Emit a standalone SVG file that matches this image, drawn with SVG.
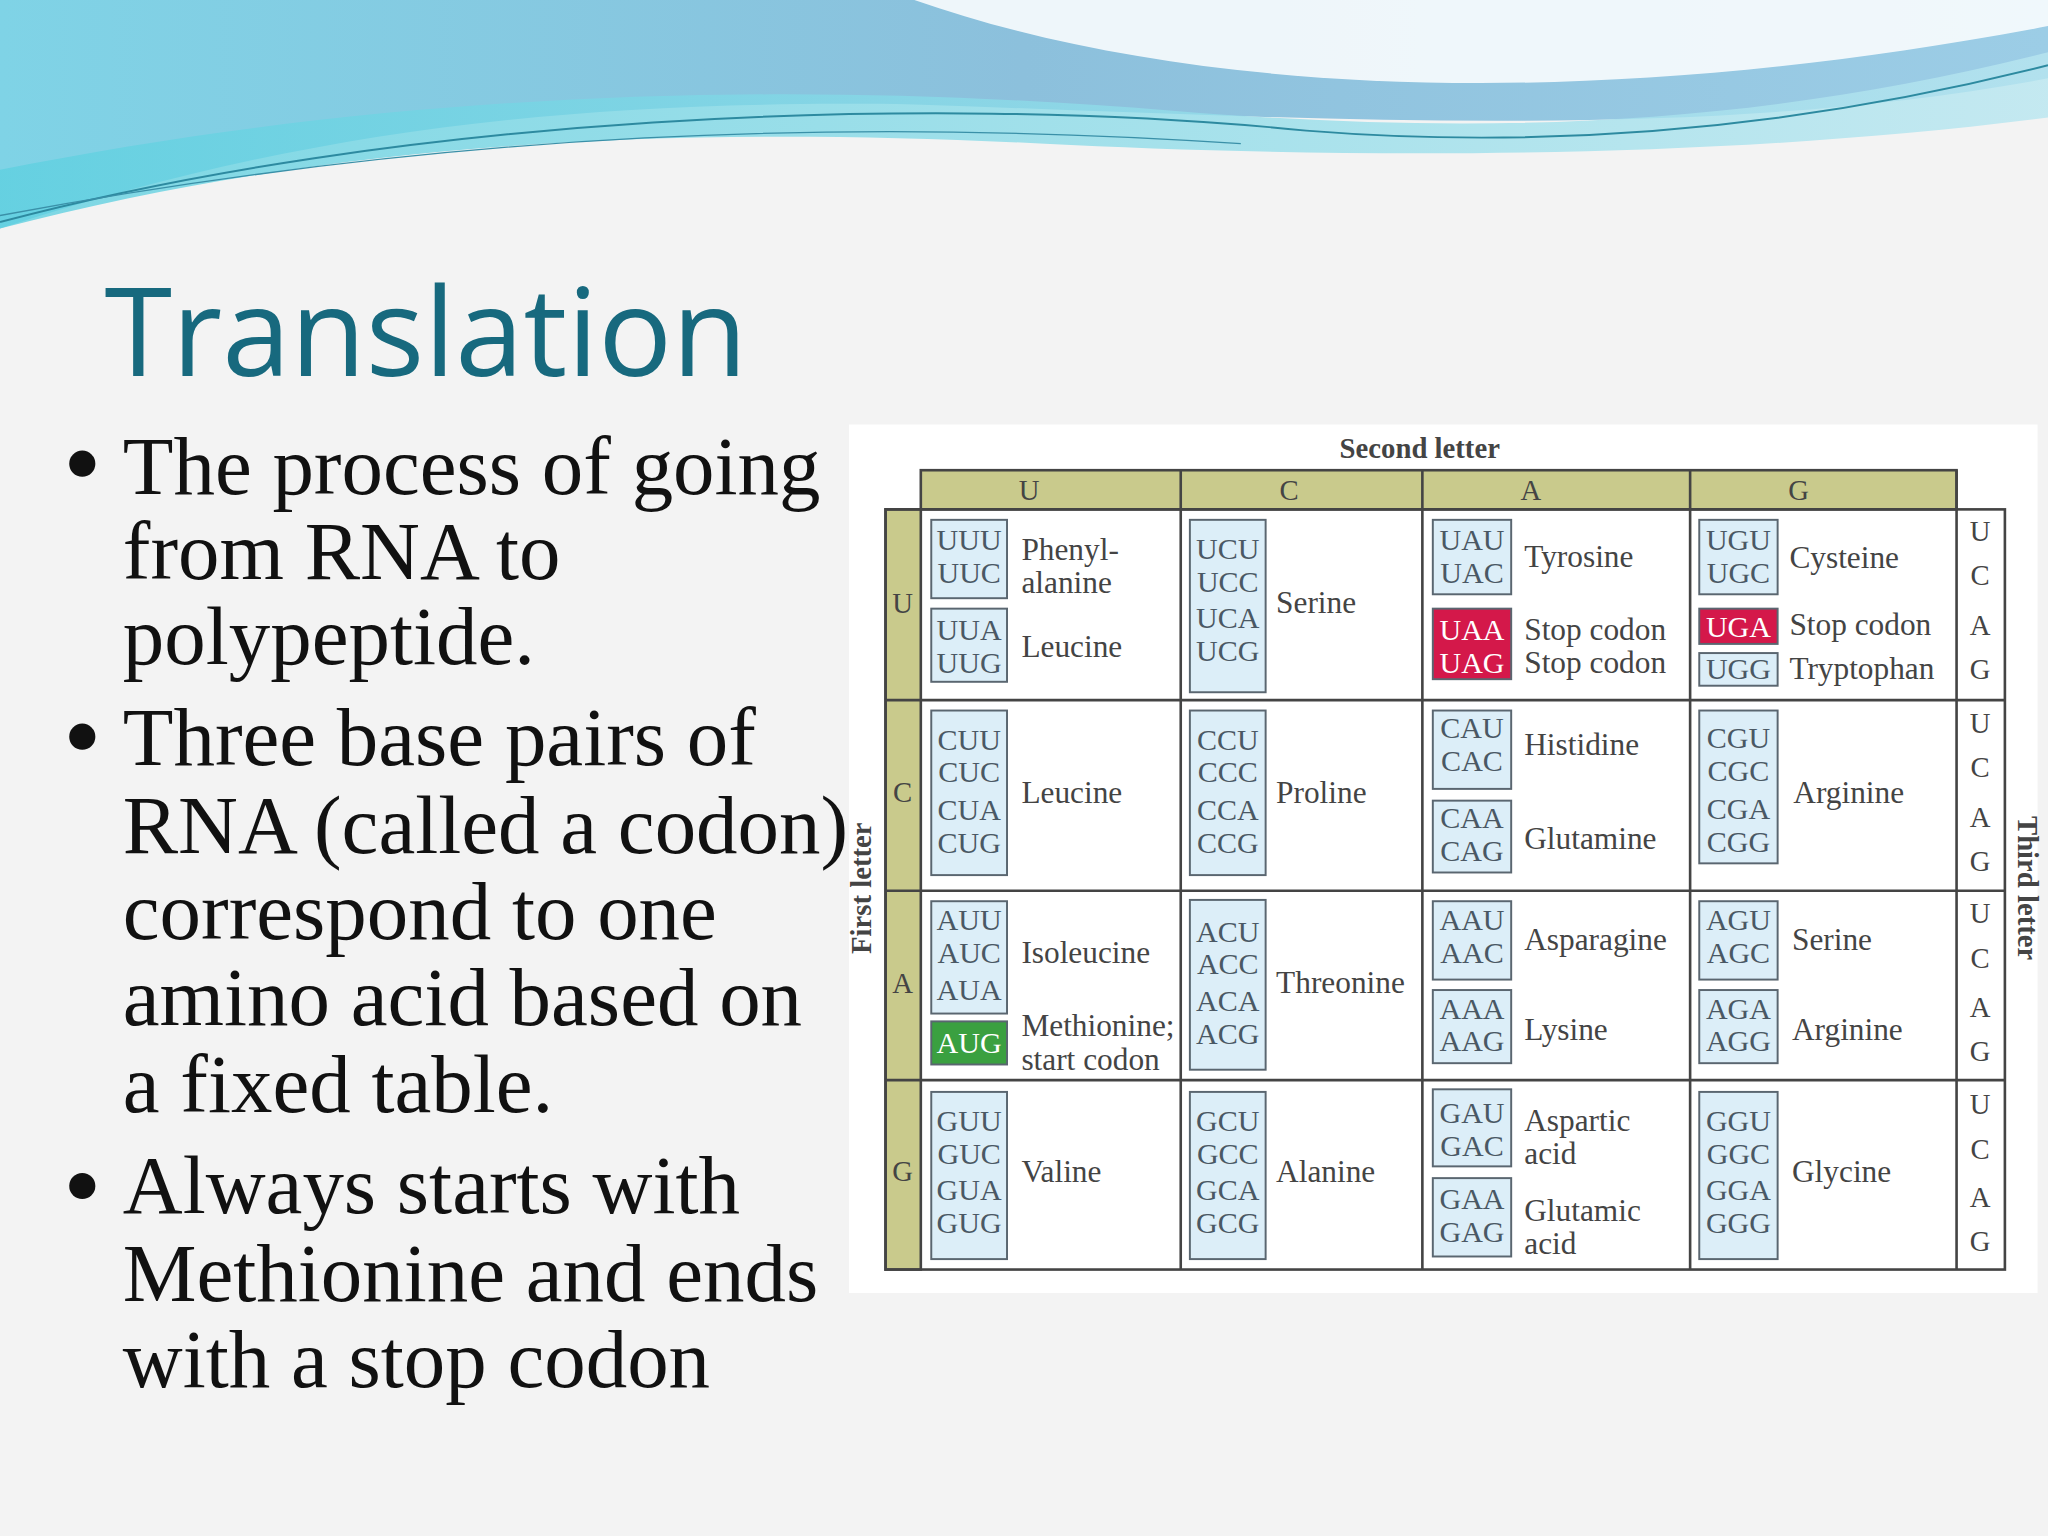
<svg xmlns="http://www.w3.org/2000/svg" width="2048" height="1536" viewBox="0 0 2048 1536">
<defs>
<linearGradient id="sky" x1="0" y1="0" x2="1" y2="0">
<stop offset="0" stop-color="#7fd3e6"/><stop offset="0.5" stop-color="#8cc0dc"/><stop offset="1" stop-color="#9ccde6"/>
</linearGradient>
<linearGradient id="sky2" x1="0" y1="0" x2="1" y2="0">
<stop offset="0" stop-color="#5fd0e0"/><stop offset="1" stop-color="#b8e6f0"/>
</linearGradient>
<style>
.cb{fill:#dceef8;stroke:#5a6670;stroke-width:1.5}
.ct{font-family:"Liberation Serif",serif;font-size:23px;fill:#4a5864;text-anchor:middle}
.lb{font-family:"Liberation Serif",serif;font-size:24px;fill:#444}
.hd{font-family:"Liberation Serif",serif;font-size:22px;fill:#444;text-anchor:middle}
.bl{font-family:"Liberation Serif",serif;font-size:63.5px;fill:#111}
.gl{stroke:#444;stroke-width:2;fill:none}
.yl{fill:#c9ca8c;stroke:#444;stroke-width:2}
</style>
</defs>
<rect width="2048" height="1536" fill="#f3f3f3"/>
<g transform="scale(1.30612)">
<path d="M0,0 H1568 V60 C1300,110 1000,90 700,80 C400,75 200,110 0,175 Z" fill="url(#sky)"/>
<path d="M0,130 C300,70 600,60 900,85 C1150,105 1350,95 1568,40 V90 C1300,125 1000,120 800,110 C500,95 250,110 0,175 Z" fill="url(#sky2)" opacity="0.8"/>
<path d="M700,0 C900,70 1200,90 1568,20 V0 Z" fill="#ffffff" opacity="0.85"/>
<path d="M0,170 C300,90 700,70 1000,100 C1250,120 1450,80 1568,50" stroke="#2d8aa0" stroke-width="1.5" fill="none"/>
<path d="M0,165 C350,100 650,90 950,110" stroke="#3a90a8" stroke-width="1" fill="none"/>

<text x="80" y="288" font-family="'Open Sans',sans-serif" font-size="94" fill="#17697e">Translation</text>

<g class="bl">
<circle cx="63" cy="355" r="10" fill="#111"/>
<text x="94" y="378">The process of going</text>
<text x="94" y="443">from RNA to</text>
<text x="94" y="508">polypeptide.</text>
<circle cx="63" cy="564" r="10" fill="#111"/>
<text x="94" y="586">Three base pairs of</text>
<text x="94" y="653">RNA (called a codon)</text>
<text x="94" y="719">correspond to one</text>
<text x="94" y="785">amino acid based on</text>
<text x="94" y="851">a fixed table.</text>
<circle cx="63" cy="908" r="10" fill="#111"/>
<text x="94" y="929">Always starts with</text>
<text x="94" y="996">Methionine and ends</text>
<text x="94" y="1062">with a stop codon</text>
</g>

<g id="table">
<rect x="650" y="325" width="910" height="665" fill="#ffffff"/>
<rect x="705" y="360" width="793" height="30" class="yl"/>
<rect x="678" y="390" width="27" height="582" class="yl"/>
<rect x="678" y="390" width="857" height="582" class="gl"/>
<g class="gl">
<line x1="904" y1="360" x2="904" y2="972"/><line x1="1089" y1="360" x2="1089" y2="972"/><line x1="1294" y1="360" x2="1294" y2="972"/><line x1="1498" y1="360" x2="1498" y2="972"/>
<line x1="678" y1="536" x2="1535" y2="536"/><line x1="678" y1="682" x2="1535" y2="682"/><line x1="678" y1="827" x2="1535" y2="827"/>
</g>
<text x="1087" y="351" class="hd" font-weight="bold" font-size="21">Second letter</text>
<text class="hd" y="383"><tspan x="788">U</tspan><tspan x="987">C</tspan><tspan x="1172">A</tspan><tspan x="1377">G</tspan></text>
<g class="hd"><text x="691" y="469">U</text><text x="691" y="614">C</text><text x="691" y="760">A</text><text x="691" y="904">G</text></g>
<g class="hd">
<text x="1516" y="414">U</text><text x="1516" y="448">C</text><text x="1516" y="486">A</text><text x="1516" y="520">G</text>
<text x="1516" y="561">U</text><text x="1516" y="595">C</text><text x="1516" y="633">A</text><text x="1516" y="667">G</text>
<text x="1516" y="707">U</text><text x="1516" y="741">C</text><text x="1516" y="779">A</text><text x="1516" y="812">G</text>
<text x="1516" y="853">U</text><text x="1516" y="887">C</text><text x="1516" y="924">A</text><text x="1516" y="958">G</text>
</g>
<text transform="translate(667,680) rotate(-90)" class="hd" font-weight="bold" font-size="21">First letter</text>
<text transform="translate(1545,680) rotate(90)" class="hd" font-weight="bold" font-size="21">Third letter</text>

<rect class="cb" x="713" y="398" width="58" height="60"/><text class="ct" x="742" y="421">UUU</text><text class="ct" x="742" y="446">UUC</text>
<rect class="cb" x="713" y="466" width="58" height="56"/><text class="ct" x="742" y="490">UUA</text><text class="ct" x="742" y="515">UUG</text>
<text class="lb" x="782" y="429">Phenyl-</text><text class="lb" x="782" y="454">alanine</text><text class="lb" x="782" y="503">Leucine</text>
<rect class="cb" x="911" y="398" width="58" height="132"/><text class="ct" x="940" y="428">UCU</text><text class="ct" x="940" y="453">UCC</text><text class="ct" x="940" y="481">UCA</text><text class="ct" x="940" y="506">UCG</text>
<text class="lb" x="977" y="469">Serine</text>
<rect class="cb" x="1097" y="398" width="60" height="57"/><text class="ct" x="1127" y="421">UAU</text><text class="ct" x="1127" y="446">UAC</text>
<rect x="1097" y="466" width="60" height="54" fill="#d4184a" stroke="#5a6670" stroke-width="1.5"/><text class="ct" x="1127" y="490" style="fill:#fff">UAA</text><text class="ct" x="1127" y="515" style="fill:#fff">UAG</text>
<text class="lb" x="1167" y="434">Tyrosine</text><text class="lb" x="1167" y="490">Stop codon</text><text class="lb" x="1167" y="515">Stop codon</text>
<rect class="cb" x="1301" y="398" width="60" height="57"/><text class="ct" x="1331" y="421">UGU</text><text class="ct" x="1331" y="446">UGC</text>
<rect x="1301" y="466" width="60" height="27" fill="#d4184a" stroke="#5a6670" stroke-width="1.5"/><text class="ct" x="1331" y="488" style="fill:#fff">UGA</text>
<rect class="cb" x="1301" y="500" width="60" height="25"/><text class="ct" x="1331" y="520">UGG</text>
<text class="lb" x="1370" y="435">Cysteine</text><text class="lb" x="1370" y="486">Stop codon</text><text class="lb" x="1370" y="520">Tryptophan</text>

<rect class="cb" x="713" y="544" width="58" height="126"/><text class="ct" x="742" y="574">CUU</text><text class="ct" x="742" y="599">CUC</text><text class="ct" x="742" y="628">CUA</text><text class="ct" x="742" y="653">CUG</text>
<text class="lb" x="782" y="615">Leucine</text>
<rect class="cb" x="911" y="544" width="58" height="126"/><text class="ct" x="940" y="574">CCU</text><text class="ct" x="940" y="599">CCC</text><text class="ct" x="940" y="628">CCA</text><text class="ct" x="940" y="653">CCG</text>
<text class="lb" x="977" y="615">Proline</text>
<rect class="cb" x="1097" y="544" width="60" height="60"/><text class="ct" x="1127" y="565">CAU</text><text class="ct" x="1127" y="590">CAC</text>
<rect class="cb" x="1097" y="613" width="60" height="55"/><text class="ct" x="1127" y="634">CAA</text><text class="ct" x="1127" y="659">CAG</text>
<text class="lb" x="1167" y="578">Histidine</text><text class="lb" x="1167" y="650">Glutamine</text>
<rect class="cb" x="1301" y="544" width="60" height="117"/><text class="ct" x="1331" y="573">CGU</text><text class="ct" x="1331" y="598">CGC</text><text class="ct" x="1331" y="627">CGA</text><text class="ct" x="1331" y="652">CGG</text>
<text class="lb" x="1373" y="615">Arginine</text>

<rect class="cb" x="713" y="690" width="58" height="86"/><text class="ct" x="742" y="712">AUU</text><text class="ct" x="742" y="737">AUC</text><text class="ct" x="742" y="766">AUA</text>
<rect x="713" y="782" width="58" height="33" fill="#3aa040" stroke="#5a6670" stroke-width="1.5"/><text class="ct" x="742" y="806" style="fill:#fff">AUG</text>
<text class="lb" x="782" y="737">Isoleucine</text><text class="lb" x="782" y="793" font-size="23">Methionine;</text><text class="lb" x="782" y="819" font-size="23">start codon</text>
<rect class="cb" x="911" y="689" width="58" height="130"/><text class="ct" x="940" y="721">ACU</text><text class="ct" x="940" y="746">ACC</text><text class="ct" x="940" y="774">ACA</text><text class="ct" x="940" y="799">ACG</text>
<text class="lb" x="977" y="760">Threonine</text>
<rect class="cb" x="1097" y="690" width="60" height="60"/><text class="ct" x="1127" y="712">AAU</text><text class="ct" x="1127" y="737">AAC</text>
<rect class="cb" x="1097" y="758" width="60" height="56"/><text class="ct" x="1127" y="780">AAA</text><text class="ct" x="1127" y="805">AAG</text>
<text class="lb" x="1167" y="727">Asparagine</text><text class="lb" x="1167" y="796">Lysine</text>
<rect class="cb" x="1301" y="690" width="60" height="60"/><text class="ct" x="1331" y="712">AGU</text><text class="ct" x="1331" y="737">AGC</text>
<rect class="cb" x="1301" y="758" width="60" height="56"/><text class="ct" x="1331" y="780">AGA</text><text class="ct" x="1331" y="805">AGG</text>
<text class="lb" x="1372" y="727">Serine</text><text class="lb" x="1372" y="796">Arginine</text>

<rect class="cb" x="713" y="836" width="58" height="128"/><text class="ct" x="742" y="866">GUU</text><text class="ct" x="742" y="891">GUC</text><text class="ct" x="742" y="919">GUA</text><text class="ct" x="742" y="944">GUG</text>
<text class="lb" x="782" y="905">Valine</text>
<rect class="cb" x="911" y="836" width="58" height="128"/><text class="ct" x="940" y="866">GCU</text><text class="ct" x="940" y="891">GCC</text><text class="ct" x="940" y="919">GCA</text><text class="ct" x="940" y="944">GCG</text>
<text class="lb" x="977" y="905">Alanine</text>
<rect class="cb" x="1097" y="834" width="60" height="59"/><text class="ct" x="1127" y="860">GAU</text><text class="ct" x="1127" y="885">GAC</text>
<rect class="cb" x="1097" y="902" width="60" height="60"/><text class="ct" x="1127" y="926">GAA</text><text class="ct" x="1127" y="951">GAG</text>
<text class="lb" x="1167" y="866">Aspartic</text><text class="lb" x="1167" y="891">acid</text><text class="lb" x="1167" y="935">Glutamic</text><text class="lb" x="1167" y="960">acid</text>
<rect class="cb" x="1301" y="836" width="60" height="128"/><text class="ct" x="1331" y="866">GGU</text><text class="ct" x="1331" y="891">GGC</text><text class="ct" x="1331" y="919">GGA</text><text class="ct" x="1331" y="944">GGG</text>
<text class="lb" x="1372" y="905">Glycine</text>
</g>
</g>
</svg>
